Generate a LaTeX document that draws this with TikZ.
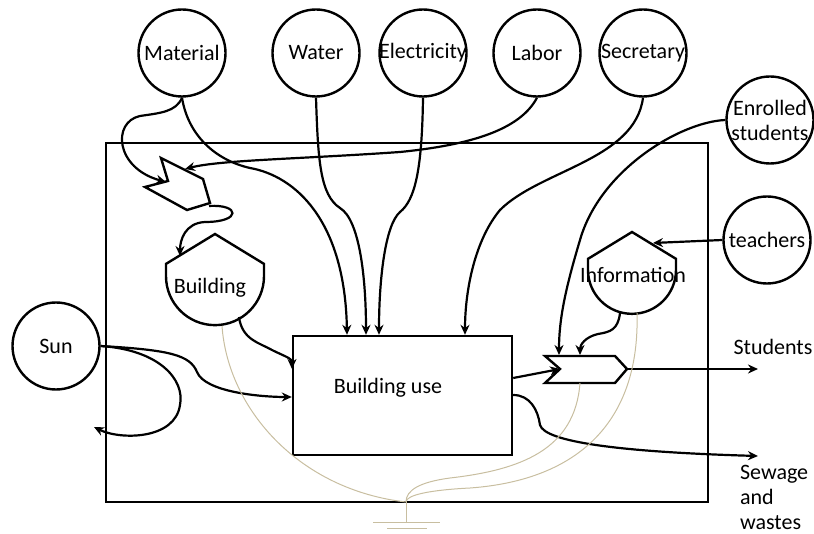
\documentclass[tikz,border=0pt]{standalone}
\usepackage{fontspec}
\setmainfont{Carlito}
\usetikzlibrary{arrows.meta}

\definecolor{earth}{RGB}{200,190,160}
\tikzset{
  res/.style={circle,draw,line width=1.2pt,minimum size=43.5pt,inner sep=-8pt},
  flow/.style={line width=1.1pt,-{Stealth[length=5pt,width=4.5pt]}},
  wire/.style={earth,line width=0.5pt},
}
% top vertex x, top vertex y, half width
\newcommand{\drawhouse}[3]{%
  \draw[line width=1.2pt] (#1,#2) -- ({#1+#3},{#2+0.61*#3}) -- ({#1+#3},{#2+0.86*#3})
    arc[start angle=0,end angle=-180,radius={#3*0.5pt}] -- ({#1-#3},{#2+0.61*#3}) -- cycle;}

\begin{document}
\begin{tikzpicture}[x=0.5pt,y=-0.5pt,font=\fontsize{11}{12.5}\selectfont]
\useasboundingbox (0,0) rectangle (814,534);
%\draw[step=50,gray,very thin] (0,0) grid (814,534);

% system boundary
\draw[line width=1.1pt] (106,143) rectangle (708,502);

% sources
\node[res] (mat) at (182,53) {Material};
\node[res] (wat) at (316,53) {Water};
\node[res] (ele) at (423,53) {Electricity};
\node[res] (lab) at (537,53) {Labor};
\node[res] (sec) at (643,53) {Secretary};
\node[res,align=center] (ens) at (770,120) {Enrolled\\students};
\node[res] (tea) at (767,240) {teachers};
\node[res] (sun) at (56,346) {Sun};

% storages
\drawhouse{215}{234}{49}
\drawhouse{632}{232}{44}
\node[] (bld) at (210,288) {Building};
\node[] (inf) at (633,275) {Information};

% interactions
\draw[line width=1.2pt] (161,158) -- (203,179) -- (210,203) -- (187,210) -- (145,187) -- (168,181) -- cycle;
\draw[line width=1.2pt] (545,356) -- (615,356) -- (627,369) -- (615,383) -- (545,383) -- (560,369) -- cycle;
\coordinate (asmin)  at (166,182);
\coordinate (asmtop) at (185,169);
\coordinate (asmtip) at (209,206);
\coordinate (bldin)  at (180,256);
\coordinate (bldout) at (239,317);
\coordinate (infout) at (620,313);
\coordinate (infin)  at (653,243);
\coordinate (outin)  at (560,369);
\coordinate (outtip) at (627,369);

% building use
\node[draw,line width=1.2pt,minimum width=109.5pt,minimum height=59.5pt] (use) at (402.5,395.5) {};
\node[] (uselbl) at (388,388) {Building use};

% sinks
\coordinate (stu) at (758,369);
\coordinate (sew) at (758,456);
\coordinate (sunout) at (94,427);
\node[] (stulbl) at (773,347) {Students};
\node[anchor=west,align=left] (sewlbl) at (733,497) {Sewage\\and\\wastes};

% flows
\draw[flow] (mat.south) .. controls (176,112) and (160,113) .. (140,116)
  .. controls (112,122) and (115,168) .. (asmin);
\draw[flow] (mat.south) .. controls (188,135) and (215,160) .. (250,168)
  .. controls (295,176) and (345,220) .. (347,0 |- use.north);
\draw[flow] (wat.south) .. controls (318,160) and (320,195) .. (340,208)
  .. controls (360,220) and (366,280) .. (366,0 |- use.north);
\draw[flow] (ele.south) .. controls (422,170) and (415,200) .. (400,212)
  .. controls (385,225) and (379,280) .. (379,0 |- use.north);
\draw[flow] (lab.south) .. controls (520,130) and (470,145) .. (400,152)
  .. controls (300,159) and (220,160) .. (asmtop);
\draw[flow] (sec.south) .. controls (635,160) and (540,170) .. (500,210)
  .. controls (475,240) and (465,290) .. (465,0 |- use.north);
\draw[flow] (asmtip) .. controls (240,204) and (242,222) .. (205,222)
  .. controls (185,223) and (180,240) .. (bldin);
\draw[flow] (bldout) .. controls (242,340) and (260,343) .. (272,350)
  .. controls (286,357) and (292,358) .. (292,369);
\draw[flow] (sun.east) .. controls (170,350) and (190,355) .. (197,372)
  .. controls (205,392) and (260,397) .. (use.west |- 0,397);
\draw[flow] (sun.east) .. controls (160,350) and (185,380) .. (180,405)
  .. controls (175,440) and (120,440) .. (sunout);
\draw[flow] (use.east |- 0,378) -- (outin);
\draw[flow] (outtip) -- (stu);
\draw[flow] (use.east |- 0,395) .. controls (530,395) and (538,410) .. (540,425)
  .. controls (545,442) and (620,452) .. (sew);
\draw[flow] (ens.west) .. controls (680,122) and (600,170) .. (580,240)
  .. controls (565,290) and (559,320) .. (559,355);
\draw[flow] (tea.west) -- (infin);
\draw[flow] (infout) .. controls (618,330) and (610,332) .. (598,334)
  .. controls (585,337) and (580,345) .. (580,355);

% heat sink
\draw[wire] (222,326) .. controls (228,410) and (300,490) .. (406,502);
\draw[wire] (580,383) .. controls (575,450) and (520,470) .. (450,478)
  .. controls (420,482) and (406,490) .. (406,502);
\draw[wire] (637,313) .. controls (640,420) and (580,480) .. (470,488)
  .. controls (430,490) and (406,495) .. (406,502);
\draw[wire] (406,502) -- (406,522);
\draw[wire] (373,522) -- (440,522);
\draw[wire] (387,528) -- (427,528);
\end{tikzpicture}
\end{document}
